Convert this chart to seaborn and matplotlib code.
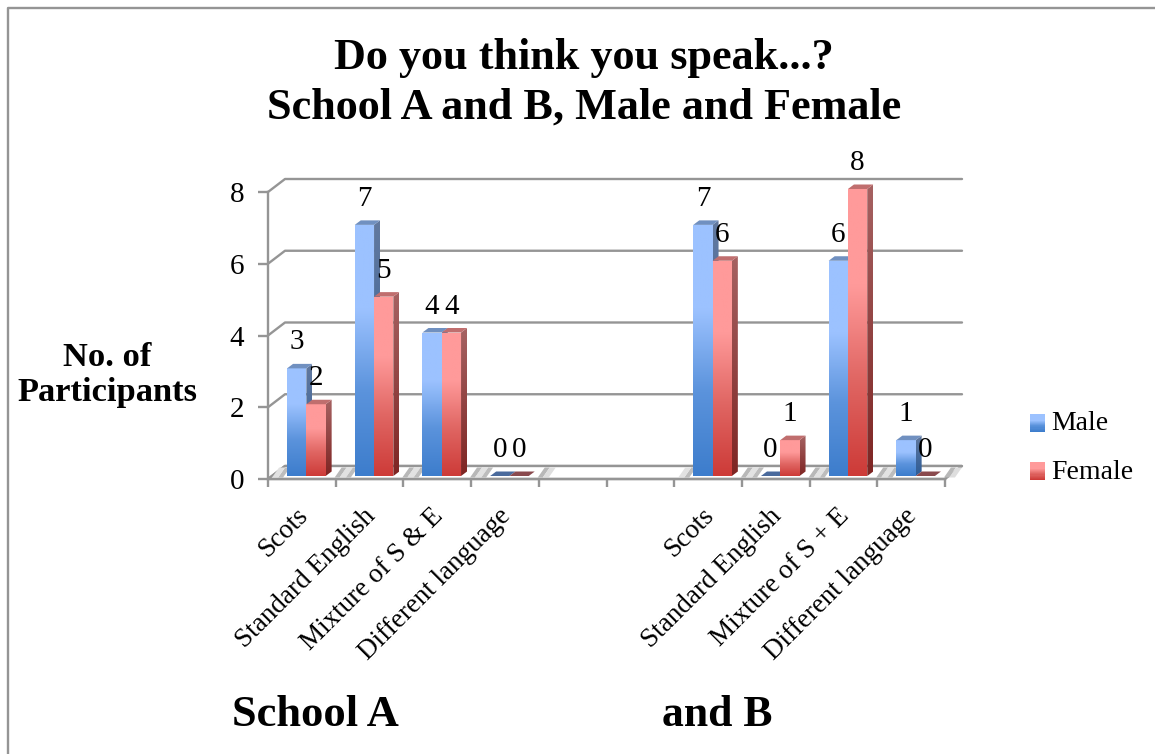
import matplotlib
matplotlib.use("Agg")
import matplotlib.pyplot as plt
import numpy as np
import pandas as pd
import seaborn as sns
from matplotlib.colors import LinearSegmentedColormap
from matplotlib.legend_handler import HandlerBase
from matplotlib.lines import Line2D
from matplotlib.patches import Polygon, Rectangle
from matplotlib.transforms import Affine2D, IdentityTransform

# Survey counts; slots 4 and 5 stay empty to separate the two schools
slots_a = [0, 1, 2, 3]
slots_b = [6, 7, 8, 9]
male_a = [3, 7, 4, 0]
female_a = [2, 5, 4, 0]
male_b = [7, 0, 6, 1]
female_b = [6, 1, 8, 0]
labels_a = ["Scots", "Standard English", "Mixture of S & E", "Different language"]
labels_b = ["Scots", "Standard English", "Mixture of S + E", "Different language"]
y_ticks = [0, 2, 4, 6, 8]

W, H = 1155, 754
DPI = 100
FONT = "Liberation Serif"
GREY = "#959595"

# Bar shading: front ramp from base to top, plus side and cap colours
RAMPS = {
    "Male": {"front": ["#3d7dcc", "#5b93dc", "#9cc2ff", "#9cc2ff"], "side": ["#2d5c97", "#62799f"],
             "top": "#7090c0", "flat": "#4a6a9c"},
    "Female": {"front": ["#cd3b38", "#e06663", "#ff9a9a", "#ff9a9a"], "side": ["#7e2523", "#a66262"],
               "top": "#c06e6e", "flat": "#8a4a4e"},
}
BAR_SHIFT = (4.5, 3.0)
DEPTH = (6.0, 4.5)
WALL = (17.0, 13.0)

sns.set_theme(style="white")
plt.rcParams["font.family"] = [FONT, "DejaVu Serif"]

df = pd.DataFrame({
    "slot": slots_a * 2 + slots_b * 2,
    "count": male_a + female_a + male_b + female_b,
    "gender": ["Male"] * 4 + ["Female"] * 4 + ["Male"] * 4 + ["Female"] * 4,
})

fig = plt.figure(figsize=(W / DPI, H / DPI), dpi=DPI, facecolor="white")
ax = fig.add_axes([268 / W, 1 - 479 / H, (945 - 268) / W, (479 - 192) / H])
sns.barplot(data=df, x="slot", y="count", hue="gender", order=list(range(10)),
            hue_order=["Male", "Female"], width=0.57, gap=0, dodge=True,
            palette={"Male": "#9cc2ff", "Female": "#ff9a9a"}, ax=ax, legend=False)
ax.set_xlim(-0.5, 9.5)
ax.set_ylim(0, 8)
ax.set_xlabel("")
ax.set_ylabel("No. of\nParticipants", rotation=0, fontsize=24.8, fontweight="bold",
              color="black", linespacing=1.2)
ax.yaxis.set_label_coords((107 - 268) / (945 - 268), (479 - 375) / (479 - 192))
ax.yaxis.label.set_verticalalignment("center")
ax.yaxis.label.set_horizontalalignment("center")

# Axes styling
for name, spine in ax.spines.items():
    spine.set_visible(name in ("left", "bottom"))
    spine.set_color(GREY)
    spine.set_linewidth(1.7)
    spine.set_zorder(1.2)
ax.patch.set_alpha(0)
ax.set_yticks(y_ticks)
ax.set_yticklabels([str(v) for v in y_ticks], fontsize=21, color="black")
ax.tick_params(axis="y", length=7, width=1.7, color=GREY, left=True, pad=10)
ax.set_xticks(slots_a + [4, 5] + slots_b)
ax.set_xticklabels(labels_a + ["", ""] + labels_b, rotation=45, ha="right",
                   rotation_mode="anchor", fontsize=19.5, color="black")
ax.tick_params(axis="x", which="major", length=0, pad=14, bottom=False)
ax.set_xticks(np.arange(-0.5, 10, 1), minor=True)
ax.tick_params(axis="x", which="minor", length=6, width=1.7, color=GREY, bottom=True)
for tick_label in ax.get_xticklabels():
    tick_label.set_transform(tick_label.get_transform() + Affine2D().translate(-7, -5))

identity = IdentityTransform()
fig.canvas.draw()
to_px = ax.transData.transform


def add_poly(points, **kw):
    poly = Polygon(points, closed=True, transform=identity, clip_on=False, **kw)
    ax.add_patch(poly)
    return poly


def gradient_poly(points, colors, z):
    """Fill a pixel-space polygon with a vertical colour ramp."""
    pts = np.asarray(points)
    clip = add_poly(pts, facecolor="none", edgecolor="none", zorder=z)
    cmap = LinearSegmentedColormap.from_list("ramp", colors)
    img = ax.imshow(np.linspace(0, 1, 128)[:, None], cmap=cmap, origin="lower", aspect="auto",
                    extent=(pts[:, 0].min(), pts[:, 0].max(), pts[:, 1].min(), pts[:, 1].max()),
                    transform=identity, zorder=z, interpolation="bilinear")
    img.set_clip_box(fig.bbox)
    img.set_clip_path(clip)


# Back wall gridlines and the diagonal connectors at the left edge
x_left, x_right = to_px((-0.5, 0))[0], to_px((9.5, 0))[0]
for v in y_ticks:
    y_px = to_px((0, v))[1]
    ax.add_line(Line2D([x_left, x_left + WALL[0], x_right + WALL[0]],
                       [y_px, y_px + WALL[1], y_px + WALL[1]], transform=identity,
                       color=GREY, lw=1.7, clip_on=False, zorder=1))

# White floor with a soft sheen beside each bar group
y0 = to_px((0, 0))[1]
add_poly([(x_left, y0), (x_right, y0), (x_right + WALL[0], y0 + WALL[1]), (x_left + WALL[0], y0 + WALL[1])],
         facecolor="white", edgecolor=GREY, lw=1.7, zorder=1.1)
half_group = to_px((0.285, 0))[0] - to_px((0, 0))[0]
for s in slots_a + slots_b:
    c = to_px((s, 0))[0] + BAR_SHIFT[0]
    sheen = ((-half_group - 9, "#bdbdbd", 5), (-half_group - 15, "#e2e2e2", 6),
             (half_group + 9, "#b8b8b8", 5), (half_group + 14, "#dedede", 6))
    for dx, tone, width in sheen:
        add_poly([(c + dx, y0 + 1.5), (c + dx + width, y0 + 1.5),
                  (c + dx + width + 7, y0 + WALL[1] - 1.5), (c + dx + 7, y0 + WALL[1] - 1.5)],
                 facecolor=tone, edgecolor="none", zorder=1.15)

# Replace the flat bars with shaded boxes built from each bar's own geometry
for z_base, gender, container in zip((2, 3), ("Male", "Female"), ax.containers):
    ramp = RAMPS[gender]
    for patch, value in zip(container.patches, container.datavalues):
        patch.set_visible(False)
        if np.isnan(value):
            continue
        (x0, b), (x1, t) = to_px((patch.get_x(), 0)), to_px((patch.get_x() + patch.get_width(), value))
        x0, x1 = x0 + BAR_SHIFT[0], x1 + BAR_SHIFT[0]
        b, t = b + BAR_SHIFT[1], t + BAR_SHIFT[1]
        dx, dy = DEPTH
        cap = [(x0, t), (x1, t), (x1 + dx, t + dy), (x0 + dx, t + dy)]
        if value == 0:
            add_poly(cap, facecolor=ramp["flat"], edgecolor="none", zorder=z_base)
        else:
            gradient_poly([(x0, b), (x1, b), (x1, t), (x0, t)], ramp["front"], z_base)
            gradient_poly([(x1, b), (x1 + dx, b + dy), (x1 + dx, t + dy), (x1, t)], ramp["side"], z_base)
            add_poly(cap, facecolor=ramp["top"], edgecolor="none", zorder=z_base)
        ax.annotate(f"{value:.0f}", xy=((x0 + x1) / 2, t), xycoords=identity,
                    xytext=(0, 26 * 72 / DPI), textcoords="offset points", ha="center", va="center",
                    fontsize=21, color="black", annotation_clip=False, zorder=6)


class GradientSwatch(HandlerBase):
    """Legend key drawn as a stack of thin strips forming the bar's ramp."""

    def create_artists(self, legend, orig, xd, yd, width, height, fontsize, trans):
        cmap = LinearSegmentedColormap.from_list("key", RAMPS[orig.get_label()]["front"])
        n = 16
        return [Rectangle((xd, yd + height * i / n), width, height / n + 0.2, facecolor=cmap(i / (n - 1)),
                          edgecolor="none", transform=trans) for i in range(n)]


handles = [Rectangle((0, 0), 1, 1, label=g) for g in ("Male", "Female")]
leg = fig.legend(handles=handles, handler_map={Rectangle: GradientSwatch()}, loc="center left",
                 bbox_to_anchor=(1030 / W, 1 - 448 / H), frameon=False, fontsize=20, labelcolor="black",
                 labelspacing=0.83, handlelength=0.54, handleheight=0.57, handletextpad=0.22,
                 borderpad=0, borderaxespad=0)

# Chart heading and school captions
fig.text(584 / W, 1 - 83 / H, "Do you think you speak...?\nSchool A and B, Male and Female",
         ha="center", va="center", fontsize=31.9, fontweight="bold", linespacing=1.3, color="black")
fig.text(232 / W, 1 - 715 / H, "School A", ha="left", va="center", fontsize=32, fontweight="bold", color="black")
fig.text(662 / W, 1 - 715 / H, "and B", ha="left", va="center", fontsize=31.5, fontweight="bold", color="black")

# Outer chart frame, open on the right and at the bottom
fig.add_artist(Line2D([8 / W, 8 / W, 1], [0, 1 - 8 / H, 1 - 8 / H], transform=fig.transFigure,
                      color=GREY, lw=1.7))

fig.savefig("out.png", dpi=DPI)
